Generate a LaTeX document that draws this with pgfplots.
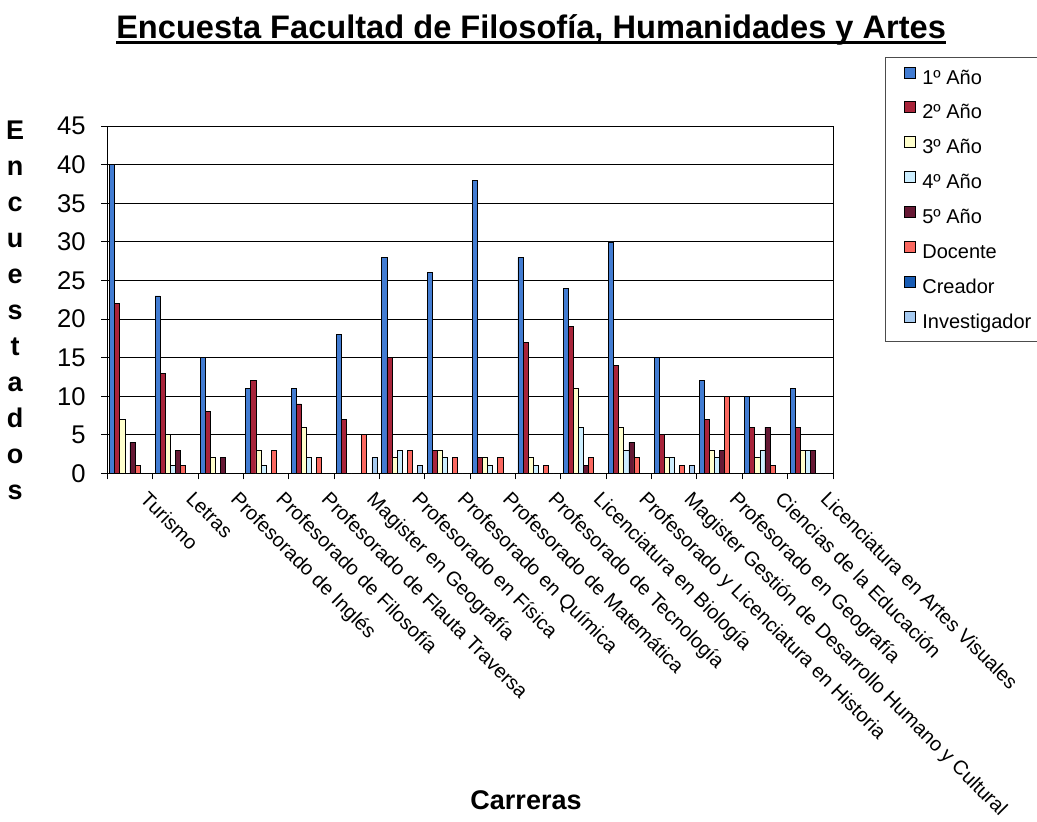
\documentclass[border=0pt]{standalone}
\usepackage{pgfplots}
\pgfplotsset{compat=1.18}
\usepackage{fontspec}
\setmainfont{Liberation Sans}

\definecolor{c1}{RGB}{66,124,210}
\definecolor{c2}{RGB}{168,36,58}
\definecolor{c3}{RGB}{255,255,204}
\definecolor{c4}{RGB}{204,238,255}
\definecolor{c5}{RGB}{102,24,52}
\definecolor{c6}{RGB}{250,104,96}
\definecolor{c7}{RGB}{24,92,180}
\definecolor{c8}{RGB}{166,202,240}

\newsavebox\ulbox
\newcommand{\ultitle}[1]{\sbox\ulbox{#1}\rlap{\rule[-3pt]{\wd\ulbox}{1.5pt}}\usebox\ulbox}

\begin{document}
\begin{tikzpicture}
\path[use as bounding box] (0,0) rectangle (518.5pt,410.5pt);
\begin{axis}[
  at={(53.65pt,173.85pt)},
  scale only axis,
  width=362.85pt, height=173.5pt,
  ybar=0pt, bar width=2.53pt,
  xmin=-0.5, xmax=15.5, ymin=0, ymax=45,
  enlarge x limits=false,
  ytick={0,5,...,45},
  xtick={0,...,15},
  minor xtick={-0.5,0.5,...,15.5},
  xticklabels={Turismo,Letras,Profesorado de Inglés,Profesorado de Filosofía,Profesorado de Flauta Traversa,Magister en Geografía,Profesorado en Física,Profesorado en Química,Profesorado de Matemática,Profesorado de Tecnología,Licenciatura en Biología,Profesorado y Licenciatura en Historia,Magister Gestión de Desarrollo Humano y Cultural,Profesorado en Geografía,Ciencias de la Educación,Licenciatura en Artes Visuales},
  /pgf/number format/assume math mode=true,
  tick align=outside,
  xtick pos=bottom, ytick pos=left,
  major x tick style={draw=none},
  minor x tick style={black, line width=0.5pt},
  major y tick style={black, line width=0.5pt},
  major tick length=3pt, minor tick length=3pt,
  ymajorgrids,
  major grid style={black, line width=0.5pt},
  axis line style={black, line width=0.5pt},
  yticklabel style={font=\fontsize{12.8}{14}\selectfont, inner sep=0pt, anchor=east, xshift=-7.6pt},
  xticklabel style={font=\fontsize{10}{12}\selectfont, inner sep=0pt, rotate=-45, anchor=north west, xshift=10.6pt, yshift=3.2pt},
  title={\ultitle{Encuesta Facultad de Filosofía, Humanidades y Artes}},
  every axis title/.style={at={(axis description cs:0.584,1.2545)}, anchor=base, inner sep=0pt, font=\bfseries\fontsize{16.3}{18}\selectfont},
  xlabel={Carreras},
  every axis x label/.style={at={(axis description cs:0.577,-0.9415)}, anchor=center, font=\bfseries\fontsize{13.5}{16}\selectfont},
  ylabel={E\\n\\c\\u\\e\\s\\t\\a\\d\\o\\s},
  every axis y label/.style={at={(axis description cs:-0.127,0.4706)}, anchor=center, align=center, font=\bfseries\fontsize{13.5}{18}\selectfont},
  every axis plot/.append style={draw=black, line width=0.4pt},
  legend image code/.code={\draw[#1, line width=0.4pt] (0pt,0.4pt) rectangle (5.5pt,5.9pt);},
  legend cell align=left,
  legend style={at={(1.0717,1.1997)}, anchor=north west, draw=black!70, line width=0.5pt, fill=white,
    font=\fontsize{10}{12}\selectfont, inner xsep=9pt, inner ysep=4.5pt, row sep=6.5pt, column sep=3.5pt,
    nodes={inner sep=0pt, text height=7.5pt, text depth=2.2pt}},
]
\addplot[fill=c1] coordinates {(0,40)(1,23)(2,15)(3,11)(4,11)(5,18)(6,28)(7,26)(8,38)(9,28)(10,24)(11,30)(12,15)(13,12)(14,10)(15,11)};
\addplot[fill=c2] coordinates {(0,22)(1,13)(2,8)(3,12)(4,9)(5,7)(6,15)(7,3)(8,2)(9,17)(10,19)(11,14)(12,5)(13,7)(14,6)(15,6)};
\addplot[fill=c3] coordinates {(0,7)(1,5)(2,2)(3,3)(4,6)(5,0)(6,2)(7,3)(8,2)(9,2)(10,11)(11,6)(12,2)(13,3)(14,2)(15,3)};
\addplot[fill=c4] coordinates {(0,0)(1,1)(2,0)(3,1)(4,2)(5,0)(6,3)(7,2)(8,1)(9,1)(10,6)(11,3)(12,2)(13,2)(14,3)(15,3)};
\addplot[fill=c5] coordinates {(0,4)(1,3)(2,2)(3,0)(4,0)(5,0)(6,0)(7,0)(8,0)(9,0)(10,1)(11,4)(12,0)(13,3)(14,6)(15,3)};
\addplot[fill=c6] coordinates {(0,1)(1,1)(2,0)(3,3)(4,2)(5,5)(6,3)(7,2)(8,2)(9,1)(10,2)(11,2)(12,1)(13,10)(14,1)(15,0)};
\addplot[fill=c7] coordinates {(0,0)(1,0)(2,0)(3,0)(4,0)(5,0)(6,0)(7,0)(8,0)(9,0)(10,0)(11,0)(12,0)(13,0)(14,0)(15,0)};
\addplot[fill=c8] coordinates {(0,0)(1,0)(2,0)(3,0)(4,0)(5,2)(6,1)(7,0)(8,0)(9,0)(10,0)(11,0)(12,1)(13,0)(14,0)(15,0)};
\legend{1º Año,2º Año,3º Año,4º Año,5º Año,Docente,Creador,Investigador\hspace*{8pt}}
\end{axis}
\end{tikzpicture}
\end{document}
